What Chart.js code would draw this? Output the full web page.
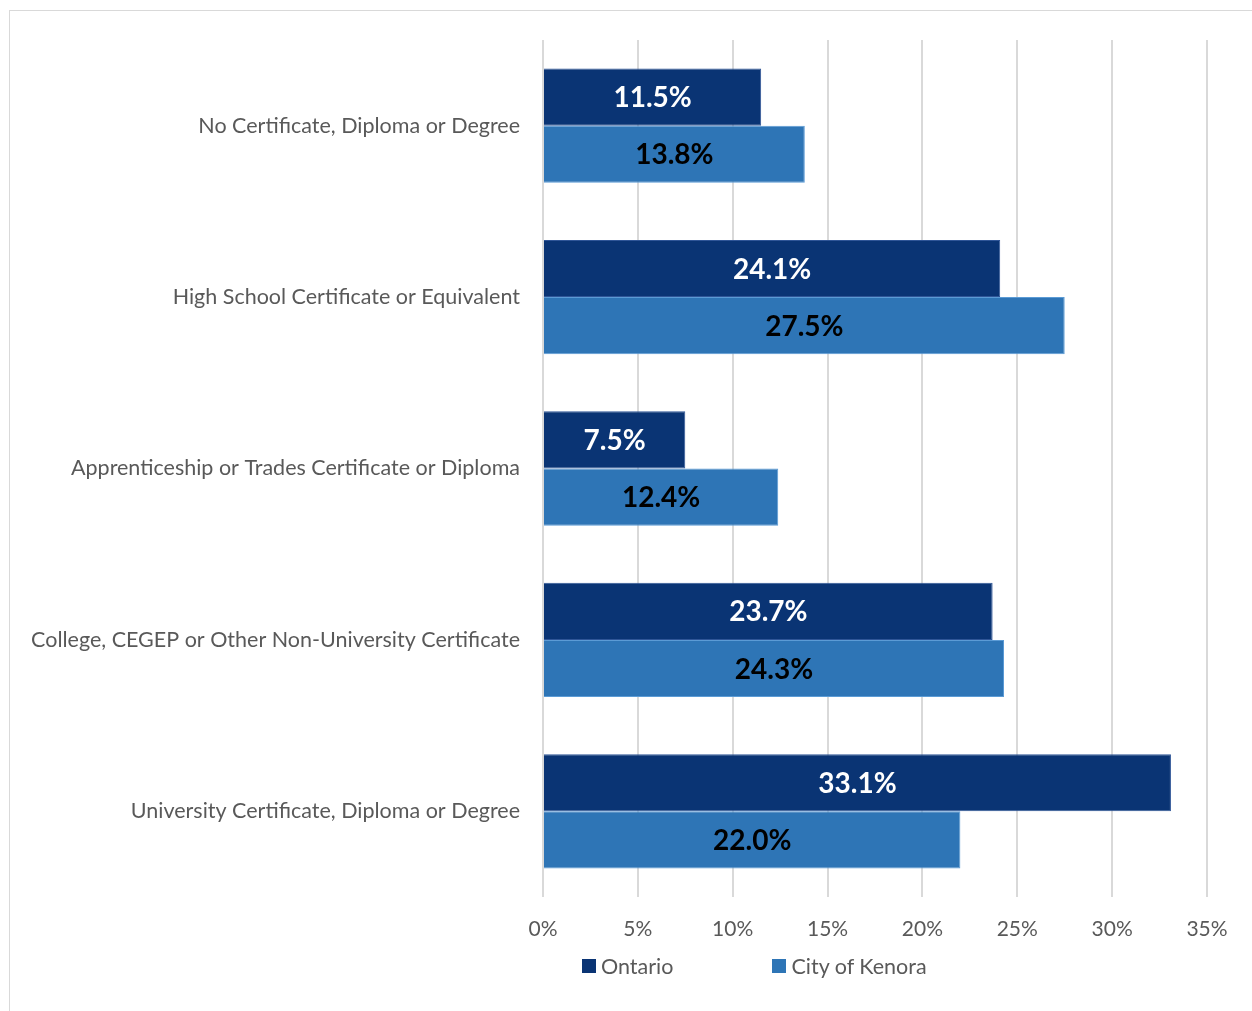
<!DOCTYPE html>
<html lang="en">
<head>
    <meta charset="UTF-8">
    <title>Highest Level of Education</title>
    <script src="https://cdn.jsdelivr.net/npm/chart.js"></script>
    <style>
        body {
            margin: 0;
            padding: 0;
            background-color: #fff;
            font-family: Lato, sans-serif;
            overflow: hidden;
        }

        .frame {
            position: absolute;
            left: 9px;
            top: 10px;
            width: 1300px;
            height: 1100px;
            border: 1px solid #d9d9d9;
            box-sizing: border-box;
        }

        .chart-box {
            position: absolute;
            left: 0;
            top: 0;
            width: 1252px;
            height: 1011px;
        }

        .legend {
            position: absolute;
            top: 950px;
            left: 582px;
            font-size: 21.5px;
            color: #595959;
            white-space: nowrap;
        }

        .legend span {
            display: inline-block;
            vertical-align: middle;
        }

        .swatch {
            width: 14px;
            height: 14px;
            margin-right: 5px;
        }
    </style>
</head>
<body>
    <div class="frame"></div>
    <div class="chart-box">
        <canvas id="eduChart" width="1252" height="1011"></canvas>
    </div>
    <div class="legend">
        <span class="swatch" style="background:#0a3474"></span><span style="margin-right:99px">Ontario</span><span class="swatch" style="background:#2e75b6"></span><span>City of Kenora</span>
    </div>

    <script>
        const categories = [
            "No Certificate, Diploma or Degree",
            "High School Certificate or Equivalent",
            "Apprenticeship or Trades Certificate or Diploma",
            "College, CEGEP or Other Non-University Certificate",
            "University Certificate, Diploma or Degree"
        ];
        const seriesNames = ["Ontario", "City of Kenora"];
        const ontario = [11.5, 24.1, 7.5, 23.7, 33.1];
        const kenora = [13.8, 27.5, 12.4, 24.3, 22.0];
        const xTicks = [0, 5, 10, 15, 20, 25, 30, 35];

        // etiquetas dentro das barras
        const barLabels = {
            id: "barLabels",
            afterDatasetsDraw(chart) {
                const ctx = chart.ctx;
                ctx.save();
                ctx.font = "bold 28px Lato, sans-serif";
                ctx.textAlign = "center";
                ctx.textBaseline = "middle";
                chart.data.datasets.forEach((ds, i) => {
                    const meta = chart.getDatasetMeta(i);
                    ctx.fillStyle = i === 0 ? "#ffffff" : "#000000";
                    meta.data.forEach((bar, j) => {
                        const x = (bar.x + bar.base) / 2;
                        ctx.fillText(ds.data[j].toFixed(1) + "%", x, bar.y + 1);
                    });
                });
                ctx.restore();
            }
        };

        new Chart(document.getElementById("eduChart"), {
            type: "bar",
            data: {
                labels: categories,
                datasets: [
                    {
                        label: seriesNames[0],
                        data: ontario,
                        backgroundColor: "#0a3474",
                        borderColor: "#2f5597",
                        borderWidth: 1,
                        categoryPercentage: 0.667,
                        barPercentage: 1.0
                    },
                    {
                        label: seriesNames[1],
                        data: kenora,
                        backgroundColor: "#2e75b6",
                        borderColor: "#5b9bd5",
                        borderWidth: 1,
                        categoryPercentage: 0.667,
                        barPercentage: 1.0
                    }
                ]
            },
            options: {
                indexAxis: "y",
                responsive: false,
                animation: false,
                layout: {
                    padding: { top: 40, right: 45, bottom: 54, left: 0 }
                },
                plugins: {
                    legend: { display: false },
                    tooltip: { enabled: false }
                },
                scales: {
                    x: {
                        min: 0,
                        max: 35,
                        afterFit(scale) { scale.height = 60; },
                        afterBuildTicks(scale) {
                            scale.ticks = xTicks.map(v => ({ value: v }));
                        },
                        grid: { color: "#d9d9d9", lineWidth: 2, drawTicks: false },
                        border: { display: false },
                        ticks: {
                            padding: 20,
                            color: "#595959",
                            font: { family: "Lato", size: 21 },
                            callback: v => v + "%"
                        }
                    },
                    y: {
                        afterFit(scale) { scale.width = 543; },
                        grid: { display: false, drawTicks: false },
                        border: { display: false },
                        ticks: {
                            padding: 23,
                            color: "#595959",
                            font: { family: "Lato", size: 21.5 }
                        }
                    }
                }
            },
            plugins: [barLabels]
        });
    </script>
</body>
</html>
